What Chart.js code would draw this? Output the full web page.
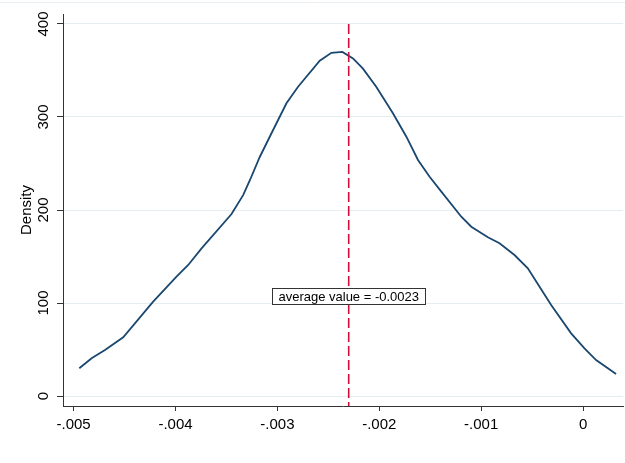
<!DOCTYPE html>
<html>
<head>
<meta charset="utf-8">
<script src="https://cdn.jsdelivr.net/npm/chart.js@4"></script>
<style>
  body { margin: 0; background: #fff; }
  canvas { display: block; }
</style>
</head>
<body>
<canvas id="densityChart" width="625" height="463"></canvas>
<script>
// ====================
// データ
// ====================
const xVals = [-0.004944, -0.004823, -0.004692, -0.004513, -0.004219, -0.00399, -0.003875, -0.003744,
    -0.00345, -0.003336, -0.00327, -0.003173, -0.003042, -0.002911, -0.002797, -0.002584, -0.00247,
    -0.002362, -0.002258, -0.00216, -0.00203, -0.001866, -0.001734, -0.00162, -0.001506, -0.001391,
    -0.001195, -0.001097, -0.000934, -0.00082, -0.000673, -0.000542, -0.000427, -0.000313, -0.000117,
    0.000014, 0.000128, 0.000324];
const yVals = [29.8, 40.5, 49.5, 63.1, 101.4, 128.3, 140.9, 158.8,
    195.7, 216, 232, 257, 286, 314.7, 332.6, 360.6, 369,
    370, 363, 352, 332.6, 304, 278.8, 253.8, 235.8, 219.7,
    192.8, 182, 170.6, 164.2, 151.6, 137.3, 117.5, 97.8, 67.4,
    51.3, 38.7, 23.7];

const xTicks = [-0.005, -0.004, -0.003, -0.002, -0.001, 0];
const xTickLabels = ["-.005", "-.004", "-.003", "-.002", "-.001", "0"];
const yTicks = [0, 100, 200, 300, 400];
const yTickLabels = ["0", "100", "200", "300", "400"];

const avgValue = -0.0023;
const avgLabel = "average value = -0.0023";
const avgLabelY = 107;

const FONT = "'Liberation Sans', Arial, sans-serif";

// ====================
// 縦線・ラベル・y目盛り（回転）
// ====================
const extras = {
    id: "extras",
    afterDraw(chart) {
        const ctx = chart.ctx;
        const xs = chart.scales.x;
        const ys = chart.scales.y;
        const area = chart.chartArea;

        // うっすらした外枠の線
        ctx.save();
        ctx.strokeStyle = "#e9eef2";
        ctx.lineWidth = 1;
        ctx.beginPath();
        ctx.moveTo(0, 2.5);
        ctx.lineTo(chart.width, 2.5);
        ctx.stroke();
        ctx.restore();

        // 平均値の縦線
        const px = xs.getPixelForValue(avgValue);
        ctx.save();
        ctx.strokeStyle = "#d0103a";
        ctx.lineWidth = 1.6;
        ctx.setLineDash([10, 4]);
        ctx.beginPath();
        ctx.moveTo(px, ys.getPixelForValue(yTicks[yTicks.length - 1]));
        ctx.lineTo(px, area.bottom);
        ctx.stroke();
        ctx.restore();

        // ラベル枠
        ctx.save();
        ctx.font = "13px " + FONT;
        const w = Math.round(ctx.measureText(avgLabel).width + 12);
        const h = 16;
        const cy = ys.getPixelForValue(avgLabelY);
        const bx = Math.round(px - w / 2) + 0.5;
        const by = Math.round(cy - h / 2) + 0.5;
        ctx.fillStyle = "#fff";
        ctx.fillRect(bx, by, w, h);
        ctx.strokeStyle = "#333";
        ctx.lineWidth = 1;
        ctx.strokeRect(bx, by, w, h);
        ctx.fillStyle = "#000";
        ctx.textAlign = "center";
        ctx.textBaseline = "middle";
        ctx.fillText(avgLabel, px, cy + 1);
        ctx.restore();

        // y軸ラベル（縦向き）
        ctx.save();
        ctx.font = "15px " + FONT;
        ctx.fillStyle = "#000";
        ctx.textAlign = "center";
        ctx.textBaseline = "middle";
        yTicks.forEach((v, i) => {
            ctx.save();
            ctx.translate(44, ys.getPixelForValue(v));
            ctx.rotate(-Math.PI / 2);
            ctx.fillText(yTickLabels[i], 0, 0);
            ctx.restore();
        });
        ctx.restore();
    }
};

new Chart(document.getElementById("densityChart"), {
    type: "line",
    data: {
        datasets: [{
            label: "Density",
            data: xVals.map((x, i) => ({ x: x, y: yVals[i] })),
            borderColor: "#1a476f",
            borderWidth: 1.8,
            pointRadius: 0,
            tension: 0,
            fill: false
        }]
    },
    options: {
        responsive: false,
        animation: false,
        layout: { padding: { top: 14, right: 2, left: 0, bottom: 0 } },
        plugins: {
            legend: { display: false },
            tooltip: { enabled: false }
        },
        scales: {
            x: {
                type: "linear",
                min: -0.005104,
                max: 0.000392,
                afterBuildTicks: s => { s.ticks = xTicks.map(v => ({ value: v })); },
                afterFit: s => { s.height = 57; },
                ticks: {
                    callback: (v) => xTickLabels[xTicks.indexOf(v)] ?? "",
                    font: { family: FONT, size: 15 },
                    color: "#000",
                    padding: 5,
                    maxRotation: 0,
                    autoSkip: false
                },
                grid: {
                    drawOnChartArea: false,
                    drawTicks: true,
                    tickLength: 5,
                    tickColor: "#333"
                },
                border: { color: "#333", width: 1 }
            },
            y: {
                type: "linear",
                min: -10.75,
                max: 410.75,
                afterBuildTicks: s => { s.ticks = yTicks.map(v => ({ value: v })); },
                afterFit: s => { s.width = 63; },
                ticks: {
                    color: "rgba(0,0,0,0)",
                    font: { family: FONT, size: 15 }
                },
                grid: {
                    color: "#e6edf1",
                    lineWidth: 1,
                    drawTicks: true,
                    tickLength: 6,
                    tickColor: "#333"
                },
                border: { color: "#333", width: 1 },
                title: {
                    display: true,
                    text: "Density",
                    color: "#000",
                    font: { family: FONT, size: 15 },
                    padding: { top: 18, bottom: 0 }
                }
            }
        }
    },
    plugins: [extras]
});
</script>
</body>
</html>
